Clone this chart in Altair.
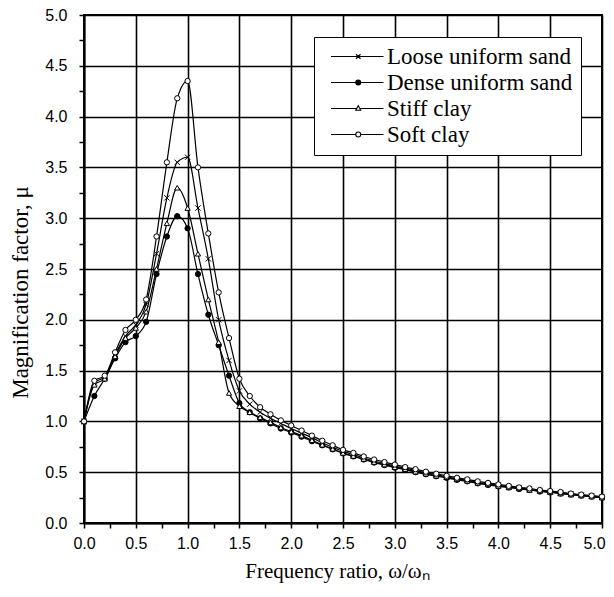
import altair as alt
import pandas as pd

# ---- data ----
freq_ratio = [0.0, 0.1, 0.2, 0.3, 0.4, 0.5, 0.6, 0.7, 0.8, 0.9,
              1.0, 1.1, 1.2, 1.3, 1.4, 1.5, 1.6, 1.7, 1.8, 1.9,
              2.0, 2.1, 2.2, 2.3, 2.4, 2.5, 2.6, 2.7, 2.8, 2.9,
              3.0, 3.1, 3.2, 3.3, 3.4, 3.5, 3.6, 3.7, 3.8, 3.9,
              4.0, 4.1, 4.2, 4.3, 4.4, 4.5, 4.6, 4.7, 4.8, 4.9, 5.0]

loose_sand = [1.00, 1.38, 1.44, 1.66, 1.84, 1.95, 2.15, 2.65, 3.20, 3.55,
              3.60, 3.10, 2.60, 2.00, 1.60, 1.30, 1.17, 1.09, 1.03, 0.98,
              0.93, 0.885, 0.84, 0.79, 0.745, 0.705, 0.675, 0.64, 0.61, 0.585,
              0.56, 0.54, 0.515, 0.495, 0.475, 0.455, 0.435, 0.42, 0.40, 0.385,
              0.37, 0.355, 0.345, 0.33, 0.32, 0.31, 0.295, 0.285, 0.275, 0.265, 0.255]

dense_sand = [1.00, 1.25, 1.42, 1.62, 1.78, 1.84, 1.98, 2.45, 2.82, 3.02,
              2.90, 2.45, 2.05, 1.75, 1.45, 1.18, 1.09, 1.03, 0.98, 0.93,
              0.89, 0.85, 0.805, 0.765, 0.725, 0.685, 0.655, 0.625, 0.595, 0.57,
              0.545, 0.525, 0.50, 0.48, 0.46, 0.445, 0.425, 0.41, 0.39, 0.375,
              0.36, 0.35, 0.335, 0.325, 0.31, 0.30, 0.29, 0.28, 0.27, 0.26, 0.25]

stiff_clay = [1.00, 1.36, 1.42, 1.64, 1.82, 1.92, 2.08, 2.50, 2.95, 3.30,
              3.10, 2.65, 2.20, 1.78, 1.28, 1.15, 1.09, 1.04, 0.99, 0.94,
              0.90, 0.86, 0.815, 0.77, 0.73, 0.69, 0.66, 0.63, 0.60, 0.575,
              0.55, 0.53, 0.505, 0.485, 0.465, 0.45, 0.43, 0.415, 0.395, 0.38,
              0.365, 0.35, 0.34, 0.325, 0.315, 0.305, 0.29, 0.28, 0.27, 0.26, 0.25]

soft_clay = [1.00, 1.40, 1.45, 1.68, 1.90, 2.00, 2.20, 2.82, 3.55, 4.18,
             4.35, 3.50, 2.85, 2.27, 1.82, 1.42, 1.25, 1.14, 1.07, 1.01,
             0.96, 0.91, 0.86, 0.81, 0.765, 0.72, 0.69, 0.655, 0.625, 0.60,
             0.575, 0.55, 0.53, 0.505, 0.485, 0.465, 0.445, 0.43, 0.41, 0.395,
             0.38, 0.365, 0.35, 0.34, 0.325, 0.315, 0.305, 0.29, 0.28, 0.27, 0.26]

series_names = ["Loose uniform sand", "Dense uniform sand", "Stiff clay", "Soft clay"]
series_values = [loose_sand, dense_sand, stiff_clay, soft_clay]

tick_values = [0.0, 0.25, 0.5, 0.75, 1.0, 1.25, 1.5, 1.75, 2.0, 2.25, 2.5, 2.75,
               3.0, 3.25, 3.5, 3.75, 4.0, 4.25, 4.5, 4.75, 5.0]

rows = []
for name, vals in zip(series_names, series_values):
    for xv, yv in zip(freq_ratio, vals):
        rows.append({"series": name, "x": xv, "y": yv})
df = pd.DataFrame(rows)
legend_df = pd.DataFrame({"series": pd.Series([], dtype="str")})

# ---- styles ----
marker_shapes = [
    "M-1,-1L1,1M-1,1L1,-1",   # x cross
    "circle",
    "triangle-up",
    "circle",
]
marker_fills = ["white", "black", "white", "white"]

# legend glyphs: line - marker - line (stroke-only paths)
legend_shapes = [
    "M-1,0H20M9,-0.9L10.8,0.9M9,0.9L10.8,-0.9",
    "M-1,0H20M8.9,0A1,1 0 1,0 10.9,0A1,1 0 1,0 8.9,0"
    "M9.3,0A0.6,0.6 0 1,0 10.5,0A0.6,0.6 0 1,0 9.3,0"
    "M9.7,0A0.2,0.2 0 1,0 10.1,0A0.2,0.2 0 1,0 9.7,0",
    "M-1,0H9.3M10.5,0H20M9.9,-1.1L10.9,0.7L8.9,0.7Z",
    "M-1,0H8.9M10.9,0H20M8.9,0A1,1 0 1,0 10.9,0A1,1 0 1,0 8.9,0",
]

grid_cond = {"condition": {"test": "datum.value % 0.5 != 0", "value": 0}, "value": 1}
label_expr = "datum.value % 0.5 == 0 ? format(datum.value, '.1f') : ''"

common_axis = dict(
    values=tick_values,
    labelExpr=label_expr,
    labelOverlap=False,
    labelFlush=False,
    labelFont="Liberation Sans",
    labelFontSize=16,
    labelColor="black",
    tickSize=5,
    tickColor="black",
    tickWidth=1.5,
    domainColor="black",
    domainWidth=2,
    gridColor="black",
    gridWidth=1.6,
    gridOpacity=grid_cond,
    titleFont="Liberation Serif",
    titleFontWeight="normal",
    titleColor="black",
)

x_enc = alt.X("x:Q", scale=alt.Scale(domain=[0, 5], nice=False),
              axis=alt.Axis(title="Frequency ratio, ω/ωₙ", labelPadding=7,
                            labelOffset={"condition": {"test": "datum.value == 5", "value": -8}, "value": 0},
                            titlePadding=9, titleFontSize=21, titleX=253, **common_axis))
y_enc = alt.Y("y:Q", scale=alt.Scale(domain=[0, 5], nice=False),
              axis=alt.Axis(title="Magnification factor, μ", labelPadding=12,
                            titlePadding=12, titleFontSize=23, titleY=277, **common_axis))

lines = alt.Chart(df).mark_line(color="black", strokeWidth=1.2, interpolate="monotone").encode(
    x=x_enc, y=y_enc, detail="series:N"
)

points = alt.Chart(df).mark_point(stroke="black", strokeWidth=1, opacity=1, size=28).encode(
    x=x_enc, y=y_enc,
    shape=alt.Shape("series:N", scale=alt.Scale(domain=series_names, range=marker_shapes), legend=None),
    fill=alt.Fill("series:N", scale=alt.Scale(domain=series_names, range=marker_fills), legend=None),
)

legend_layer = alt.Chart(legend_df).mark_point(stroke="black", strokeWidth=1.1, size=25, opacity=1).encode(
    shape=alt.Shape("series:N", scale=alt.Scale(domain=series_names, range=legend_shapes),
                    legend=alt.Legend(title=None, orient="none", legendX=230, legendY=22,
                                      padding=8, strokeColor="black", fillColor="white",
                                      labelFont="Liberation Serif", labelFontSize=23, labelLimit=400,
                                      labelColor="black", labelOffset=42, rowPadding=2,
                                      symbolSize=25, symbolOpacity=1,
                                      symbolFillColor="transparent",
                                      symbolStrokeColor="black", symbolStrokeWidth=1.1)),
)

chart = alt.layer(lines, points, legend_layer).resolve_scale(
    shape="independent", fill="independent"
).properties(
    width=518, height=508,
    autosize=alt.AutoSizeParams(type="none"),
    padding={"left": 76, "top": 7, "right": 4, "bottom": 61},
).configure_view(
    stroke="black", strokeWidth=2
)

chart.save("out.html", embed_options={"renderer": "svg", "actions": False})
